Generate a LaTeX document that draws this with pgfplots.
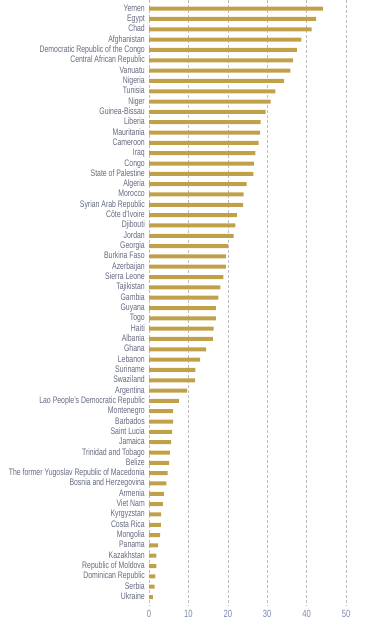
\documentclass[border=0pt]{standalone}
\usepackage{pgfplots}
\pgfplotsset{compat=1.18}
\usepackage{pgfplotstable}
\usepackage{fontspec}
\setmainfont{Liberation Sans}[FakeStretch=0.73]
\definecolor{barc}{HTML}{C1A04A}
\definecolor{labc}{HTML}{656A80}
\definecolor{tickc}{HTML}{7C88AA}
\definecolor{gridc}{HTML}{BDBDBD}

\pgfplotstableread[col sep=semicolon]{
idx;name;val
0;Yemen;44.1
1;Egypt;42.4
2;Chad;41.3
3;Afghanistan;38.7
4;Democratic Republic of the Congo;37.5
5;Central African Republic;36.6
6;Vanuatu;35.9
7;Nigeria;34.3
8;Tunisia;32.1
9;Niger;30.9
10;Guinea-Bissau;29.6
11;Liberia;28.3
12;Mauritania;28.2
13;Cameroon;27.8
14;Iraq;27.0
15;Congo;26.6
16;State of Palestine;26.5
17;Algeria;24.8
18;Morocco;24.0
19;Syrian Arab Republic;23.9
20;Côte d’Ivoire;22.3
21;Djibouti;21.9
22;Jordan;21.5
23;Georgia;20.1
24;Burkina Faso;19.5
25;Azerbaijan;19.5
26;Sierra Leone;18.9
27;Tajikistan;18.1
28;Gambia;17.6
29;Guyana;17.0
30;Togo;17.0
31;Haiti;16.4
32;Albania;16.2
33;Ghana;14.5
34;Lebanon;13.0
35;Suriname;11.8
36;Swaziland;11.7
37;Argentina;9.7
38;Lao People’s Democratic Republic;7.6
39;Montenegro;6.1
40;Barbados;6.1
41;Saint Lucia;5.9
42;Jamaica;5.6
43;Trinidad and Tobago;5.3
44;Belize;5.1
45;The former Yugoslav Republic of Macedonia;4.7
46;Bosnia and Herzegovina;4.4
47;Armenia;3.8
48;Viet Nam;3.5
49;Kyrgyzstan;3.1
50;Costa Rica;3.0
51;Mongolia;2.8
52;Panama;2.3
53;Kazakhstan;1.9
54;Republic of Moldova;1.9
55;Dominican Republic;1.6
56;Serbia;1.4
57;Ukraine;1.0
}\data

\begin{document}
\begin{tikzpicture}
\useasboundingbox (0,0) rectangle (369bp,625bp);
\begin{axis}[
  at={(149bp,19bp)}, anchor=south west,
  width=197bp, height=606bp, scale only axis,
  xbar, bar width=4bp,
  y dir=reverse,
  xmin=0, xmax=50,
  ymin=-0.84, ymax=57.87,
  xtick={0,10,...,50},
  ytick={0,...,57},
  yticklabels from table={\data}{name},
  axis line style={draw=none},
  major tick length=0pt,
  xmajorgrids,
  grid style={gridc, dash pattern=on 3bp off 2bp, line width=0.6bp},
  yticklabel style={labc, font=\fontsize{9.5}{10}\selectfont, anchor=east,
    text height=7bp, text depth=2bp, inner sep=0pt, xshift=-4bp},
  xticklabel style={tickc, font=\fontsize{10.5}{11}\selectfont, yshift=-1bp},
  /pgf/number format/assume math mode=true,
  clip=false,
]
\addplot[fill=barc, draw=none] table[x=val, y=idx]{\data};
\end{axis}
\end{tikzpicture}
\end{document}
